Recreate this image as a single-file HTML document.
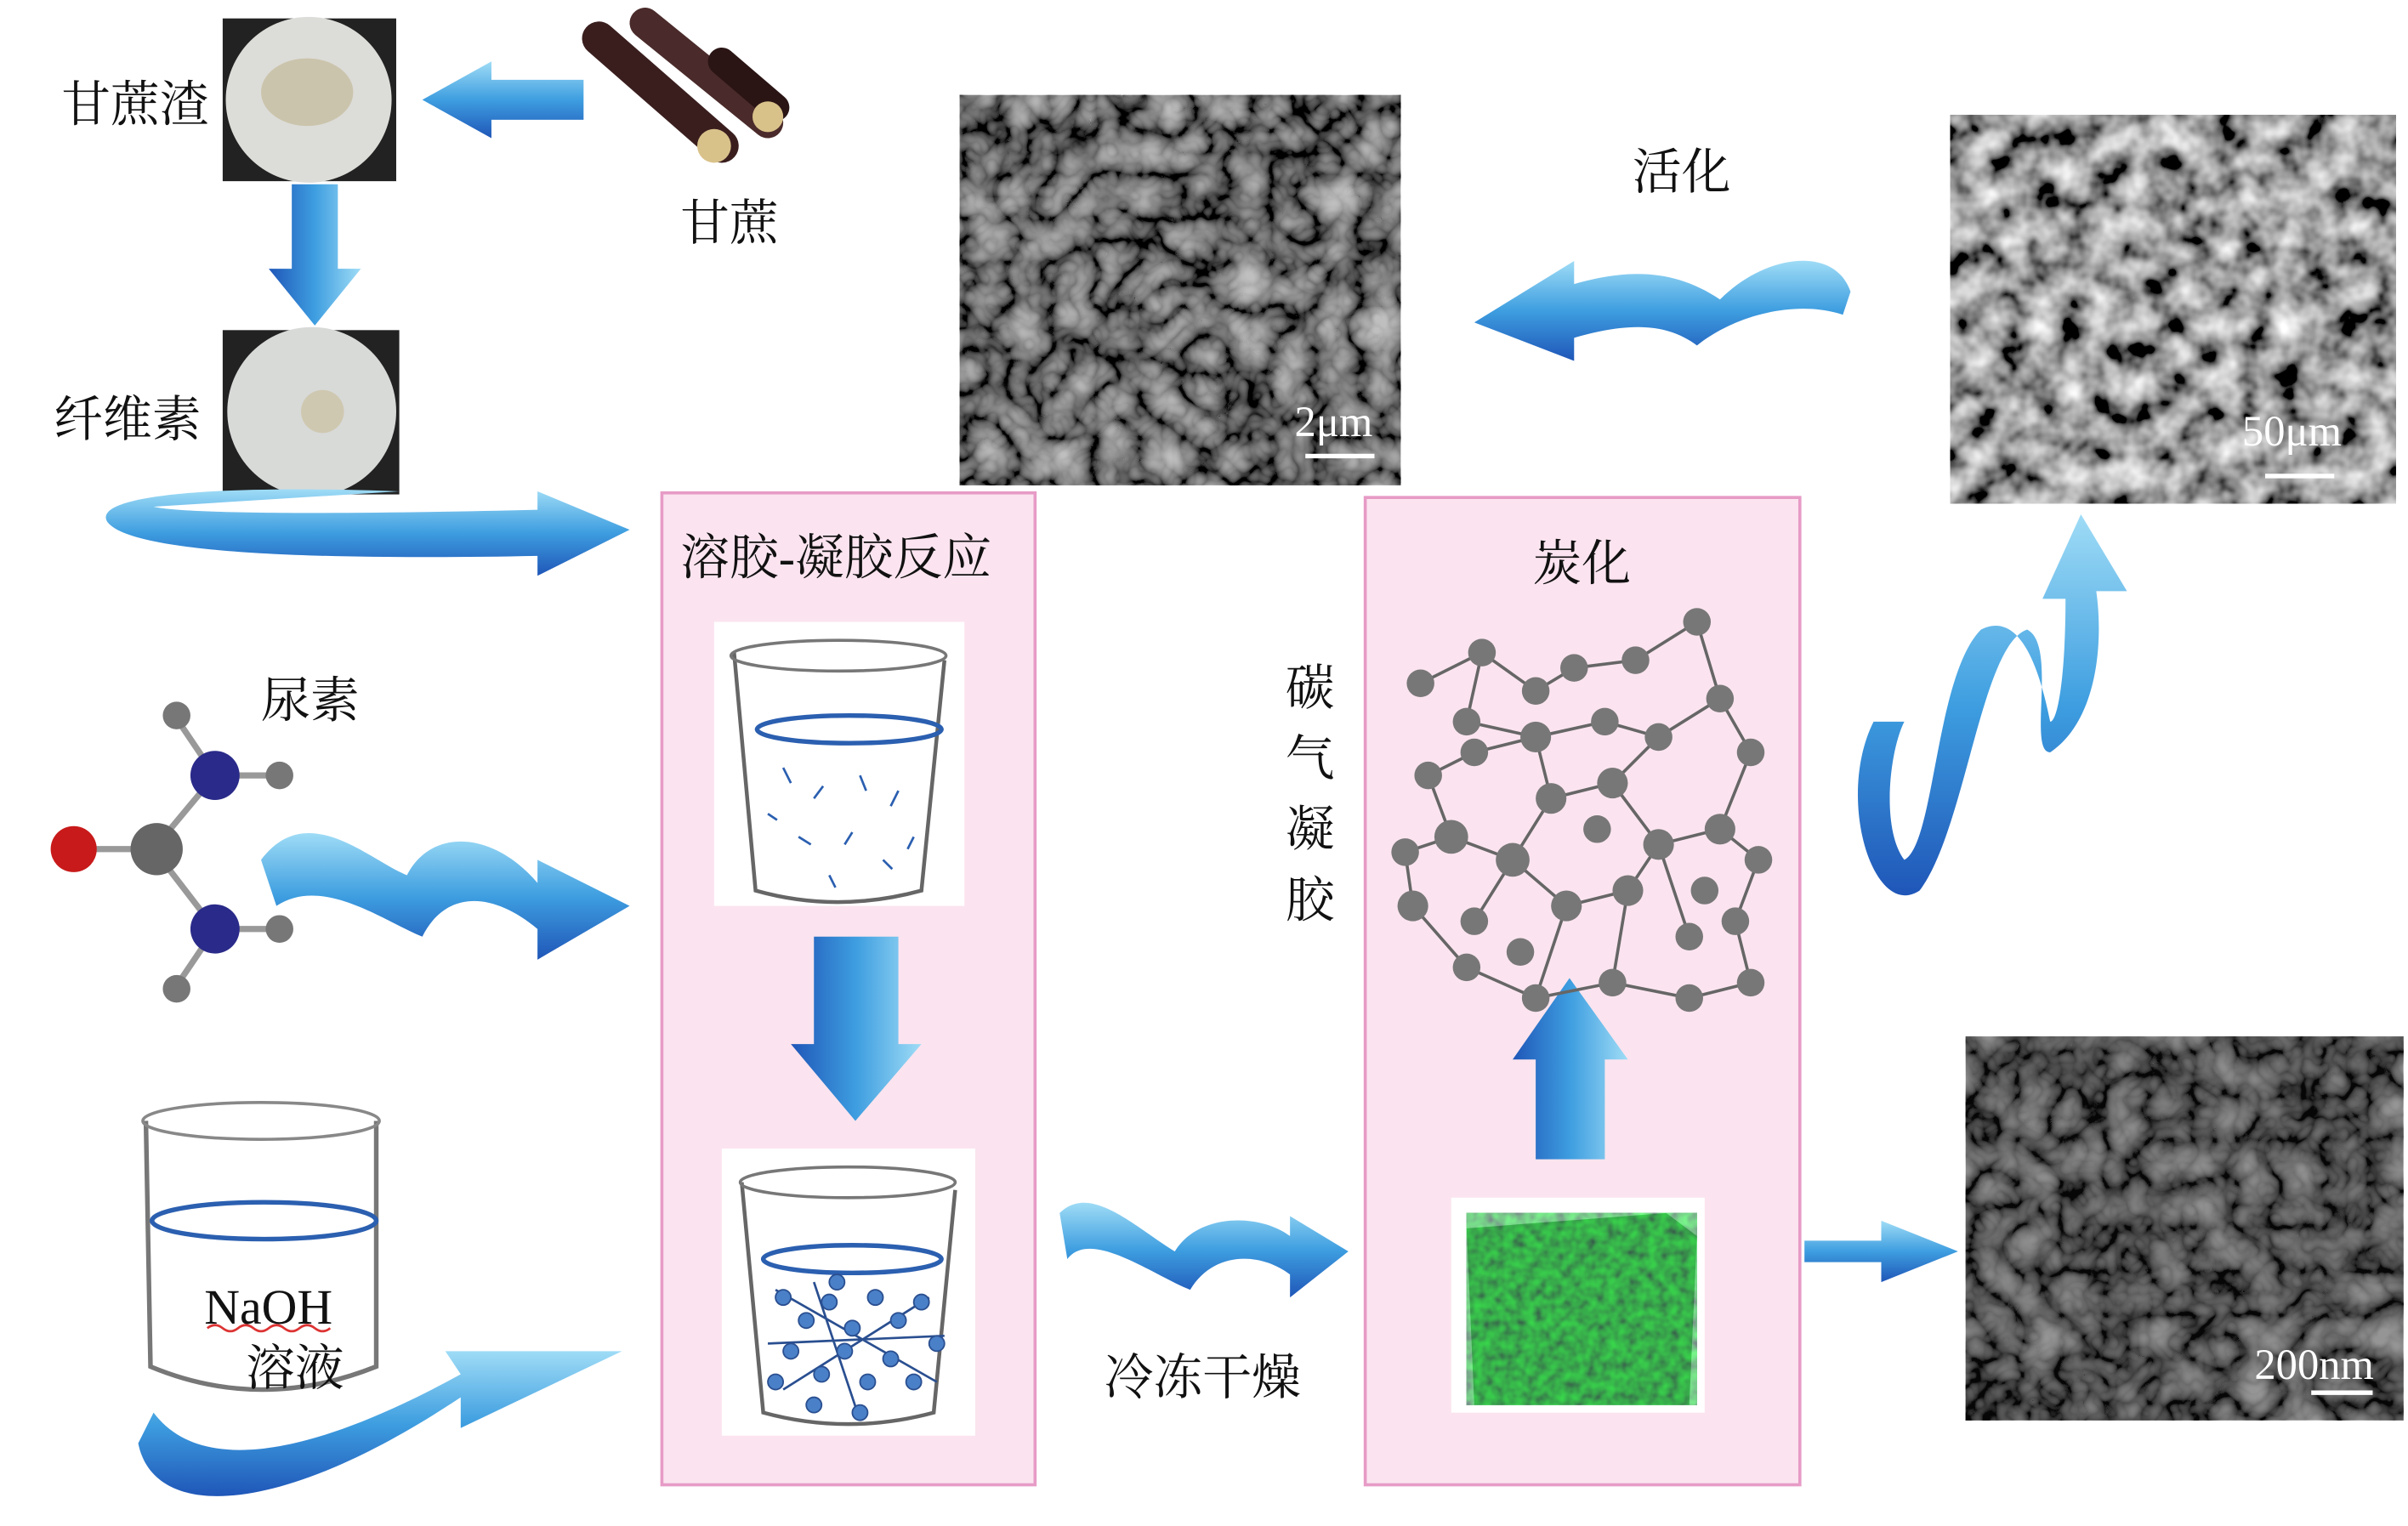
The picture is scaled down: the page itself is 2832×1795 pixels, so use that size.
<!DOCTYPE html>
<html><head><meta charset="utf-8"><style>
html,body{margin:0;padding:0;background:#fff;}
#wrap{width:2832px;height:1795px;overflow:hidden;position:relative;}
#s{position:absolute;left:0;top:0;width:1568px;height:994px;transform:scale(1.80612);transform-origin:0 0;}
.t{position:absolute;font-family:"Liberation Serif","Noto Serif CJK SC",serif;font-size:32px;color:#111;white-space:nowrap;line-height:1;}
.box{position:absolute;background:#fbe4ef;border:2px solid #e79bc6;box-sizing:border-box;}
</style></head><body><div id="wrap"><div id="s">
<svg width="1568" height="994" style="position:absolute;left:0;top:0">
<defs>
<linearGradient id="bl" x1="0" y1="0" x2="0" y2="1"><stop offset="0" stop-color="#9fdcf6"/><stop offset="0.5" stop-color="#3e9ee0"/><stop offset="1" stop-color="#1f56b8"/></linearGradient>
<linearGradient id="blh" x1="0" y1="0" x2="1" y2="0"><stop offset="0" stop-color="#1f56b8"/><stop offset="0.5" stop-color="#3e9ee0"/><stop offset="1" stop-color="#9fdcf6"/></linearGradient>
<filter id="semg" x="0" y="0" width="100%" height="100%"><feTurbulence type="fractalNoise" baseFrequency="0.05" numOctaves="3" seed="5" result="n"/><feColorMatrix in="n" type="matrix" values="1.6 0 0 0 -0.45 1.6 0 0 0 -0.45 1.6 0 0 0 -0.45 0 0 0 0 1"/></filter>
<filter id="semg2" x="0" y="0" width="100%" height="100%"><feTurbulence type="turbulence" baseFrequency="0.035" numOctaves="3" seed="8" result="n"/><feColorMatrix in="n" type="matrix" values="1.4 0 0 0 -0.12 1.4 0 0 0 -0.12 1.4 0 0 0 -0.12 0 0 0 0 1"/></filter>
<filter id="green" x="0" y="0" width="100%" height="100%"><feTurbulence type="fractalNoise" baseFrequency="0.15" numOctaves="2" seed="2" result="n"/><feColorMatrix in="n" type="matrix" values="0 0 0 0 0.05 1.2 0 0 0 -0.1 0 0 0 0 0.1 0 0 0 0 1"/></filter>
</defs>
<rect x="145" y="12" width="113" height="106" fill="#222"/>
<circle cx="201" cy="65" r="54" fill="#dcdcd8"/><ellipse cx="200" cy="60" rx="30" ry="22" fill="#cbc4ac"/>
<rect x="145" y="215" width="115" height="107" fill="#222"/>
<circle cx="203" cy="268" r="55" fill="#d8dad8"/><circle cx="210" cy="268" r="14" fill="#cfc8b0"/>
<g stroke-linecap="round">
<line x1="390" y1="25" x2="470" y2="95" stroke="#3a1e1e" stroke-width="22"/>
<line x1="420" y1="15" x2="500" y2="80" stroke="#4a2a2a" stroke-width="20"/>
<line x1="470" y1="40" x2="505" y2="70" stroke="#2a1414" stroke-width="18"/>
</g>
<circle cx="465" cy="95" r="11" fill="#d9c28a"/><circle cx="500" cy="76" r="10" fill="#d9c28a"/>
<polygon points="380,52 320,52 320,40 275,65 320,90 320,78 380,78" fill="url(#bl)"/>
<polygon points="190,120 220,120 220,175 235,175 205,212 175,175 190,175" fill="url(#blh)"/>
<path d="M260,320 C120,315 60,325 70,340 C85,360 200,365 350,362 L350,375 L410,345 L350,320 L350,332 C230,335 120,335 100,330 Z" fill="url(#bl)"/>
<path d="M170,560 C200,520 240,560 265,570 C280,540 320,540 350,575 L350,560 L410,590 L350,625 L350,605 C320,580 290,580 275,610 C250,600 210,570 180,590 Z" fill="url(#bl)"/>
<path d="M90,940 C100,990 180,990 300,910 L300,930 L405,880 L290,880 L300,895 C200,950 130,960 100,920 Z" fill="url(#bl)"/>
<path d="M690,790 C710,770 740,800 765,815 C780,790 820,790 840,805 L840,792 L878,815 L840,845 L840,830 C820,815 790,815 775,840 C750,830 710,800 695,820 Z" fill="url(#bl)"/>
<polygon points="1175,808 1225,808 1225,795 1275,815 1225,835 1225,822 1175,822" fill="url(#bl)"/>
<path d="M1205,190 C1195,160 1150,165 1120,195 C1090,175 1060,175 1025,185 L1025,170 L960,210 L1025,235 L1025,220 C1060,210 1085,210 1105,225 C1130,205 1170,195 1200,205 Z" fill="url(#bl)"/>
<path d="M1220,470 C1195,520 1220,600 1250,580 C1280,540 1290,420 1320,410 C1340,420 1320,490 1335,490 C1365,470 1370,420 1365,385 L1385,385 L1355,335 L1330,390 L1345,390 C1345,440 1340,470 1335,470 C1325,420 1310,400 1290,410 C1260,440 1260,550 1240,560 C1225,540 1230,490 1240,470 Z" fill="url(#bl)"/>
<rect x="625" y="62" width="287" height="254" fill="#444"/><rect x="625" y="62" width="287" height="254" filter="url(#semg2)"/>
<rect x="625" y="62" width="287" height="254" fill="#000" opacity="0.25"/>
<rect x="1270" y="75" width="290" height="253" fill="#444"/><rect x="1270" y="75" width="290" height="253" filter="url(#semg)"/>
<rect x="1280" y="675" width="285" height="250" fill="#222"/><rect x="1280" y="675" width="285" height="250" filter="url(#semg2)" opacity="0.75"/>
<rect x="1280" y="675" width="285" height="250" fill="#000" opacity="0.25"/>
<line x1="850" y1="297" x2="895" y2="297" stroke="#fff" stroke-width="3"/>
<line x1="1475" y1="310" x2="1520" y2="310" stroke="#fff" stroke-width="3"/>
<line x1="1505" y1="907" x2="1545" y2="907" stroke="#fff" stroke-width="3"/>
<g stroke="#999" stroke-width="4"><line x1="50" y1="553" x2="100" y2="553"/><line x1="100" y1="553" x2="140" y2="505"/><line x1="100" y1="553" x2="140" y2="605"/><line x1="140" y1="505" x2="115" y2="468"/><line x1="140" y1="505" x2="180" y2="505"/><line x1="140" y1="605" x2="115" y2="642"/><line x1="140" y1="605" x2="180" y2="605"/></g>
<circle cx="48" cy="553" r="15" fill="#c81a1a"/><circle cx="102" cy="553" r="17" fill="#666"/>
<circle cx="140" cy="505" r="16" fill="#2a2a8a"/><circle cx="140" cy="605" r="16" fill="#2a2a8a"/>
<circle cx="115" cy="466" r="9" fill="#777"/><circle cx="182" cy="505" r="9" fill="#777"/><circle cx="115" cy="644" r="9" fill="#777"/><circle cx="182" cy="605" r="9" fill="#777"/>
<path d="M95,730 L98,890 Q170,920 245,890 L245,730" fill="#fff" stroke="#777" stroke-width="3"/>
<ellipse cx="170" cy="730" rx="77" ry="12" fill="none" stroke="#888" stroke-width="2"/>
<ellipse cx="172" cy="795" rx="73" ry="12" fill="none" stroke="#2b5fb0" stroke-width="3"/>
<path d="M135,865 q5,-4 10,0 t10,0 t10,0 t10,0 t10,0 t10,0 t10,0 t10,0" fill="none" stroke="#d33" stroke-width="1.5"/>
</svg>
<div class="box" style="left:430px;top:320px;width:245px;height:648px"></div>
<div class="box" style="left:888px;top:323px;width:285px;height:645px"></div>
<svg width="1568" height="994" style="position:absolute;left:0;top:0">
<defs>
<linearGradient id="blh2" x1="0" y1="0" x2="1" y2="0"><stop offset="0" stop-color="#1f56b8"/><stop offset="0.5" stop-color="#3e9ee0"/><stop offset="1" stop-color="#9fdcf6"/></linearGradient>
<filter id="green2" x="0" y="0" width="100%" height="100%"><feTurbulence type="fractalNoise" baseFrequency="0.15" numOctaves="2" seed="2" result="n"/><feColorMatrix in="n" type="matrix" values="0 0 0 0 0.05 1.2 0 0 0 -0.1 0 0 0 0 0.1 0 0 0 0 1"/></filter>
</defs>
<polygon points="530,610 585,610 585,680 600,680 557,730 515,680 530,680" fill="url(#blh2)"/>
<polygon points="1000,755 1045,755 1045,690 1060,690 1022,637 985,690 1000,690" fill="url(#blh2)"/>
<rect x="465" y="405" width="163" height="185" fill="#fff"/>
<path d="M478,425 L492,580 Q545,595 600,580 L615,430" fill="none" stroke="#666" stroke-width="2.5"/>
<ellipse cx="546" cy="427" rx="70" ry="10" fill="none" stroke="#777" stroke-width="2"/>
<ellipse cx="553" cy="475" rx="60" ry="9" fill="none" stroke="#2b5fb0" stroke-width="3"/>
<g fill="none" stroke="#2b5fb0" stroke-width="1.5"><path d="M510,500 l5,10 M530,520 l6,-8 M560,505 l4,10 M585,515 l-5,10 M520,545 l8,5 M550,550 l5,-8 M575,560 l6,6 M540,570 l4,8 M500,530 l6,4 M595,545 l-4,8"/></g>
<rect x="470" y="748" width="165" height="187" fill="#fff"/>
<path d="M483,770 L497,920 Q552,935 608,920 L622,775" fill="none" stroke="#666" stroke-width="2.5"/>
<ellipse cx="552" cy="770" rx="70" ry="10" fill="none" stroke="#777" stroke-width="2"/>
<ellipse cx="555" cy="820" rx="58" ry="9" fill="none" stroke="#2b5fb0" stroke-width="3"/>
<g fill="none" stroke="#2a4f90" stroke-width="1.5"><path d="M505,840 L610,900 M510,905 L605,845 M530,835 L560,925 M500,875 L615,870"/></g>
<g fill="#4a80c8" stroke="#2a4f90" stroke-width="1">
<circle cx="510" cy="845" r="5"/><circle cx="525" cy="860" r="5"/><circle cx="540" cy="848" r="5"/><circle cx="555" cy="865" r="5"/><circle cx="570" cy="845" r="5"/><circle cx="585" cy="860" r="5"/><circle cx="600" cy="848" r="5"/><circle cx="515" cy="880" r="5"/><circle cx="535" cy="895" r="5"/><circle cx="550" cy="880" r="5"/><circle cx="565" cy="900" r="5"/><circle cx="580" cy="885" r="5"/><circle cx="595" cy="900" r="5"/><circle cx="530" cy="915" r="5"/><circle cx="560" cy="920" r="5"/><circle cx="545" cy="835" r="5"/><circle cx="505" cy="900" r="5"/><circle cx="610" cy="875" r="5"/></g>
<g stroke="#666" stroke-width="2" fill="none">
<path d="M925,445 L965,425 L1000,450 L1025,435 L1065,430 L1105,405 L1120,455 L1140,490 L1120,540 L1145,560 L1130,600 L1140,640 L1100,650 L1050,640 L1000,650 L955,630 L920,590 L915,555 L945,545 L930,505 L960,490 L1000,480 L1045,470 L1080,480 L1120,455 M965,425 L955,470 L1000,480 L1010,520 L1050,510 L1080,480 M1010,520 L985,560 L945,545 M1050,510 L1080,550 L1120,540 M985,560 L1020,590 L1060,580 L1080,550 M1020,590 L1000,650 M1060,580 L1050,640 M960,600 L985,560 M1100,610 L1080,550"/></g>
<g fill="#777">
<circle cx="925" cy="445" r="9"/><circle cx="965" cy="425" r="9"/><circle cx="1000" cy="450" r="9"/><circle cx="1025" cy="435" r="9"/><circle cx="1065" cy="430" r="9"/><circle cx="1105" cy="405" r="9"/><circle cx="1120" cy="455" r="9"/><circle cx="1140" cy="490" r="9"/><circle cx="1120" cy="540" r="10"/><circle cx="1145" cy="560" r="9"/><circle cx="1130" cy="600" r="9"/><circle cx="1140" cy="640" r="9"/><circle cx="1100" cy="650" r="9"/><circle cx="1050" cy="640" r="9"/><circle cx="1000" cy="650" r="9"/><circle cx="955" cy="630" r="9"/><circle cx="920" cy="590" r="10"/><circle cx="915" cy="555" r="9"/><circle cx="945" cy="545" r="11"/><circle cx="930" cy="505" r="9"/><circle cx="960" cy="490" r="9"/><circle cx="1000" cy="480" r="10"/><circle cx="1045" cy="470" r="9"/><circle cx="1080" cy="480" r="9"/><circle cx="955" cy="470" r="9"/><circle cx="1010" cy="520" r="10"/><circle cx="1050" cy="510" r="10"/><circle cx="985" cy="560" r="11"/><circle cx="1080" cy="550" r="10"/><circle cx="1020" cy="590" r="10"/><circle cx="1060" cy="580" r="10"/><circle cx="960" cy="600" r="9"/><circle cx="1100" cy="610" r="9"/><circle cx="1040" cy="540" r="9"/><circle cx="1110" cy="580" r="9"/><circle cx="990" cy="620" r="9"/></g>
<rect x="945" y="780" width="165" height="140" fill="#fff"/>
<polygon points="955,800 1085,790 1105,805 1100,915 960,915" fill="#2a8a2a"/>
<polygon points="955,800 1085,790 1105,805 1100,915 960,915" filter="url(#green2)" opacity="0.7"/>
</svg>
<div class="t" style="left:40px;top:52px">甘蔗渣</div>
<div class="t" style="left:443px;top:129px">甘蔗</div>
<div class="t" style="left:35px;top:257px">纤维素</div>
<div class="t" style="left:170px;top:440px">尿素</div>
<div class="t" style="left:443px;top:347px">溶胶-凝胶反应</div>
<div class="t" style="left:998px;top:351px">炭化</div>
<div class="t" style="left:1063px;top:96px">活化</div>
<div class="t" style="left:719px;top:881px">冷冻干燥</div>
<div class="t" style="left:837px;top:425px;line-height:46px;white-space:normal;width:32px">碳<br>气<br>凝<br>胶</div>
<div class="t" style="left:133px;top:835px">NaOH</div>
<div class="t" style="left:160px;top:875px">溶液</div>
<div class="t" style="left:843px;top:262px;color:#fff;font-size:28px">2μm</div>
<div class="t" style="left:1460px;top:268px;color:#fff;font-size:28px">50μm</div>
<div class="t" style="left:1468px;top:876px;color:#fff;font-size:28px">200nm</div>
</div></div></body></html>
